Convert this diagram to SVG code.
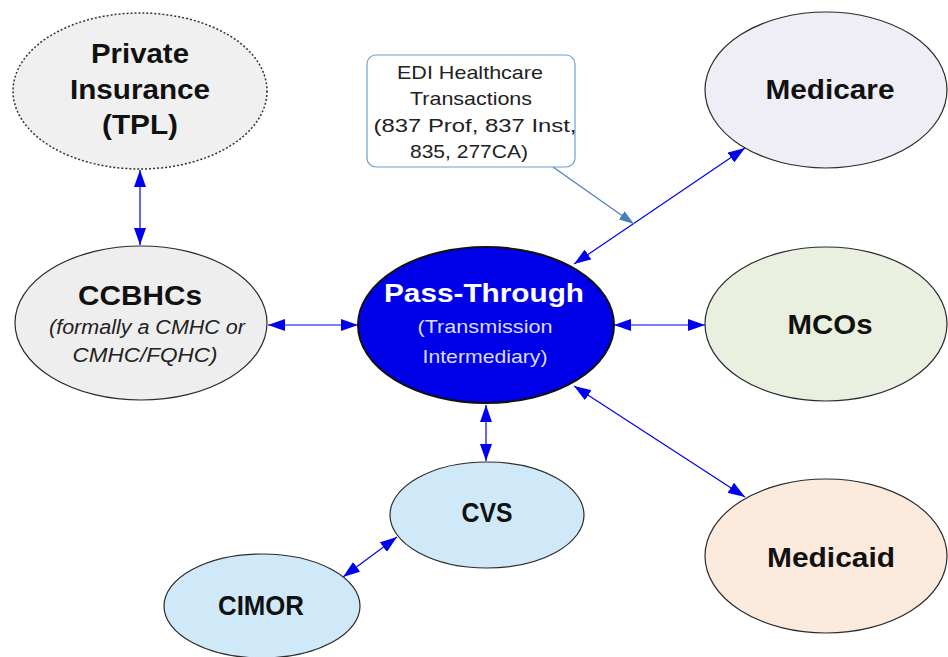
<svg xmlns="http://www.w3.org/2000/svg" width="948" height="657" viewBox="0 0 948 657">
<style>
text{font-family:"Liberation Sans",Arial,sans-serif;text-anchor:middle;}
.node{stroke:#2b2b2b;stroke-width:1.2;}
.big{font-weight:bold;font-size:28px;fill:#111;}
.it{font-size:20px;font-style:italic;fill:#222;}
.edit{font-size:19px;fill:#222;}
.sub{font-size:19px;fill:#dcdcff;}
.conn{stroke:#0000ee;stroke-width:1.2;fill:none;}
.edi{stroke:#4a7ebb;stroke-width:1.2;fill:none;}
</style>
<defs>
<marker id="ah" markerUnits="userSpaceOnUse" markerWidth="18" markerHeight="12" refX="17" refY="6" orient="auto-start-reverse" viewBox="0 0 18 12">
<path d="M0,0 L17,6 L0,12 z" fill="#0000ee"/>
</marker>
<marker id="ah2" markerUnits="userSpaceOnUse" markerWidth="16" markerHeight="10" refX="15" refY="5" orient="auto" viewBox="0 0 16 10">
<path d="M0,0 L15,5 L0,10 z" fill="#4a7ebb"/>
</marker>
</defs>
<rect width="948" height="657" fill="#fff"/>
<g id="connectors">
<line class="conn" x1="140" y1="170" x2="140" y2="245" marker-start="url(#ah)" marker-end="url(#ah)"/>
<line class="conn" x1="268" y1="325" x2="358" y2="325" marker-start="url(#ah)" marker-end="url(#ah)"/>
<line class="conn" x1="614" y1="325" x2="705" y2="325" marker-start="url(#ah)" marker-end="url(#ah)"/>
<line class="conn" x1="574" y1="264" x2="745" y2="148" marker-start="url(#ah)" marker-end="url(#ah)"/>
<line class="conn" x1="574" y1="386" x2="745" y2="497" marker-start="url(#ah)" marker-end="url(#ah)"/>
<line class="conn" x1="486" y1="405" x2="486" y2="461" marker-start="url(#ah)" marker-end="url(#ah)"/>
<line class="conn" x1="397" y1="537" x2="343" y2="577" marker-start="url(#ah)" marker-end="url(#ah)"/>
<line class="edi" x1="553" y1="167" x2="634" y2="224" marker-end="url(#ah2)"/>
</g>
<g id="private-insurance">
<ellipse cx="140" cy="91" rx="127" ry="78" fill="#f0f0f0" stroke="#333" stroke-width="1.5" stroke-dasharray="2,2"/>
<text class="big" x="140" y="63" textLength="98" lengthAdjust="spacingAndGlyphs">Private</text>
<text class="big" x="140" y="99" textLength="140" lengthAdjust="spacingAndGlyphs">Insurance</text>
<text class="big" x="140" y="134" textLength="76" lengthAdjust="spacingAndGlyphs">(TPL)</text>
</g>
<g id="ccbhcs">
<ellipse class="node" cx="141" cy="323" rx="126" ry="77" fill="#eeeeee"/>
<text class="big" x="140" y="305" textLength="124" lengthAdjust="spacingAndGlyphs">CCBHCs</text>
<text class="it" x="147" y="334" textLength="196" lengthAdjust="spacingAndGlyphs">(formally a CMHC or</text>
<text class="it" x="145" y="362" textLength="145" lengthAdjust="spacingAndGlyphs">CMHC/FQHC)</text>
</g>
<g id="edi">
<rect x="367" y="55" width="208" height="112" rx="9" fill="#fff" stroke="#6a9fd4" stroke-width="1.2"/>
<text class="edit" x="470" y="79" textLength="146" lengthAdjust="spacingAndGlyphs">EDI Healthcare</text>
<text class="edit" x="471" y="105" textLength="122" lengthAdjust="spacingAndGlyphs">Transactions</text>
<text class="edit" x="475" y="132" textLength="203" lengthAdjust="spacingAndGlyphs">(837 Prof, 837 Inst,</text>
<text class="edit" x="469" y="158" textLength="118" lengthAdjust="spacingAndGlyphs">835, 277CA)</text>
</g>
<g id="pass-through">
<ellipse cx="486" cy="325" rx="128" ry="78" fill="#0000e8" stroke="#111" stroke-width="2"/>
<text x="484" y="302" font-size="26" font-weight="bold" fill="#fff" textLength="200" lengthAdjust="spacingAndGlyphs">Pass-Through</text>
<text class="sub" x="485" y="333" textLength="135" lengthAdjust="spacingAndGlyphs">(Transmission</text>
<text class="sub" x="485" y="363" textLength="125" lengthAdjust="spacingAndGlyphs">Intermediary)</text>
</g>
<g id="medicare">
<ellipse class="node" cx="826" cy="90" rx="121" ry="78" fill="#efeef6"/>
<text class="big" x="830" y="99" textLength="129" lengthAdjust="spacingAndGlyphs">Medicare</text>
</g>
<g id="mcos">
<ellipse class="node" cx="826" cy="324" rx="121" ry="77" fill="#e9f0df"/>
<text class="big" x="830" y="334" textLength="85" lengthAdjust="spacingAndGlyphs">MCOs</text>
</g>
<g id="medicaid">
<ellipse class="node" cx="826" cy="556" rx="121" ry="77" fill="#fcebdd"/>
<text class="big" x="831" y="567" textLength="128" lengthAdjust="spacingAndGlyphs">Medicaid</text>
</g>
<g id="cvs">
<ellipse class="node" cx="487" cy="515" rx="97" ry="53" fill="#cfe9f9"/>
<text class="big" x="487" y="522" font-size="23" textLength="51" lengthAdjust="spacingAndGlyphs">CVS</text>
</g>
<g id="cimor">
<ellipse class="node" cx="262" cy="606" rx="98" ry="52" fill="#cfe9f9"/>
<text class="big" x="261" y="615" font-size="23" textLength="86" lengthAdjust="spacingAndGlyphs">CIMOR</text>
</g>
</svg>
